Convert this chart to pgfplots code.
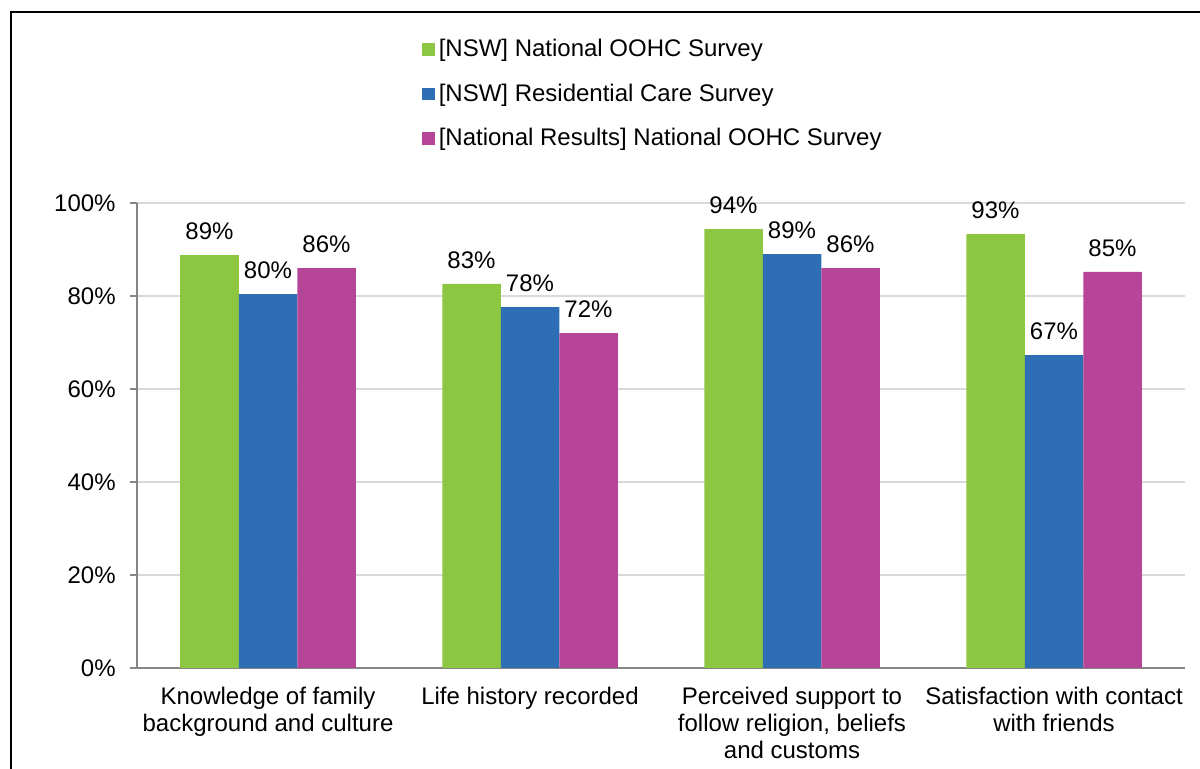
\documentclass[border=0pt]{standalone}
\usepackage{fontspec}
\setmainfont{Liberation Sans}
\usepackage{pgfplots}
\usepackage{pgfplotstable}
\pgfplotsset{compat=1.18}
\definecolor{cGreen}{HTML}{8DC641}
\definecolor{cBlue}{HTML}{2E6EB4}
\definecolor{cPink}{HTML}{B64497}
\definecolor{gridL}{HTML}{D9D9D9}
\definecolor{axisL}{HTML}{868686}

% values in percent, categories at x = 0..3
\pgfplotstableread{
x  nsw   resi  nat
0  88.8  80.4  86.0
1  82.6  77.6  72.0
2  94.4  89.0  86.0
3  93.3  67.3  85.2
}\surveydata

\begin{document}
\begin{tikzpicture}
\fontsize{12}{13.5}\selectfont
\path[use as bounding box] (0,0) rectangle (600pt,384.5pt);
\draw[black, line width=1.3pt] (5.5pt,0) -- (5.5pt,378.5pt) -- (600pt,378.5pt);
\begin{axis}[
    at={(68.5pt,50.5pt)}, anchor=south west,
    scale only axis, width=524pt, height=232.5pt,
    /pgf/number format/assume math mode=true,
    font=\fontsize{12}{13.5}\selectfont,
    ybar=0pt, bar width=29.25pt,
    xmin=-0.5, xmax=3.5, ymin=0, ymax=100,
    axis x line*=bottom, axis y line*=left,
    axis line style={axisL, line width=1pt},
    xtick=data,
    xticklabels={{Knowledge of family\\background and culture},
      {Life history recorded},
      {Perceived support to\\follow religion, beliefs\\and customs},
      {Satisfaction with contact\\with friends}},
    x tick label style={align=center, yshift=-2pt},
    x tick style={draw=none},
    ytick={0,20,40,60,80,100},
    yticklabels={0\%,20\%,40\%,60\%,80\%,100\%},
    y tick label style={xshift=-3pt},
    tick align=outside, major tick length=3.5pt,
    y tick style={axisL, line width=1pt},
    ymajorgrids, grid style={gridL, line width=0.8pt},
    nodes near coords={\pgfmathprintnumber[fixed,precision=0]{\pgfplotspointmeta}\%},
    every node near coord/.append style={font=\fontsize{12}{13.5}\selectfont, black, yshift=3.5pt},
    legend style={draw=none, fill=none, at={(0.266,1.37)}, anchor=north west,
      font=\fontsize{12}{13.5}\selectfont, row sep=7.7pt},
    legend cell align=left,
    legend image code/.code={\fill[#1] (0pt,-3pt) rectangle (6.3pt,3.2pt);},
  ]
  \addplot[draw=none, fill=cGreen] table[x=x, y=nsw] {\surveydata};
  \addplot[draw=none, fill=cBlue] table[x=x, y=resi] {\surveydata};
  \addplot[draw=none, fill=cPink] table[x=x, y=nat] {\surveydata};
  \legend{\relax[NSW] National OOHC Survey, \relax[NSW] Residential Care Survey,
    \relax[National Results] National OOHC Survey}
\end{axis}
\end{tikzpicture}
\end{document}
